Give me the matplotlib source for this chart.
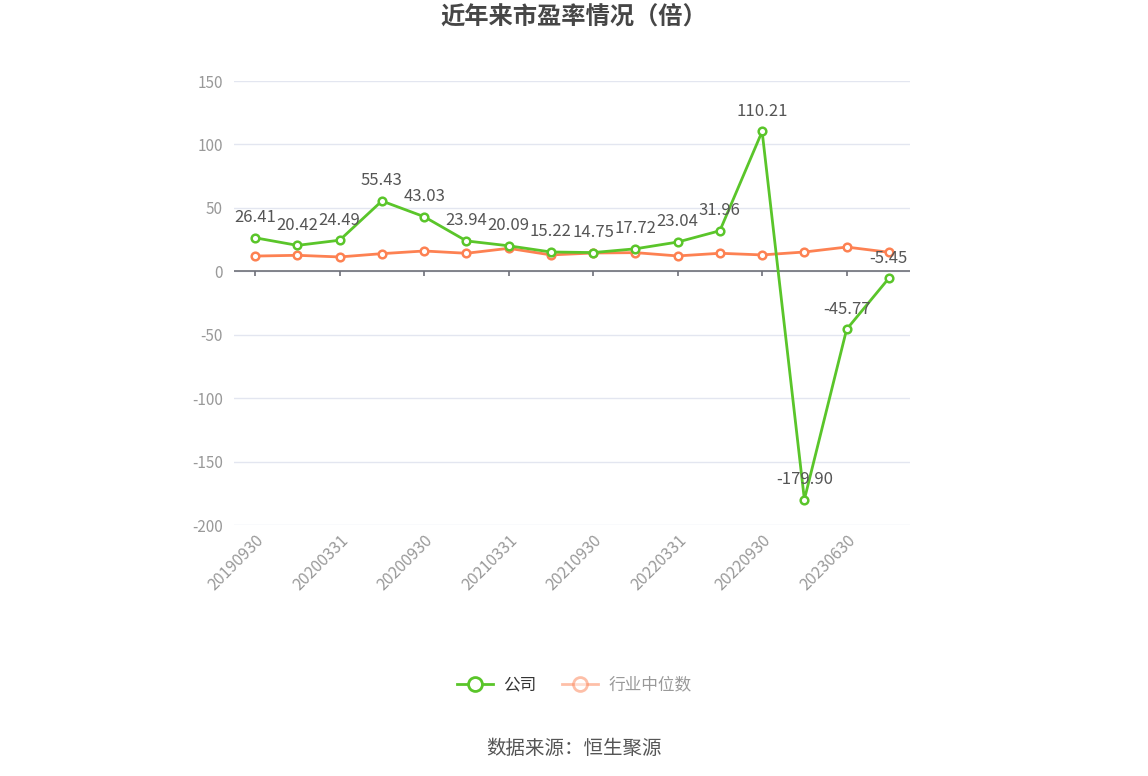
import matplotlib
matplotlib.use("Agg")
import matplotlib.pyplot as plt
from matplotlib.lines import Line2D

plt.rcParams['font.family'] = ['Noto Sans CJK SC', 'DejaVu Sans']
plt.rcParams['axes.unicode_minus'] = False

dates = ["20190930", "20191231", "20200331", "20200630", "20200930", "20201231",
         "20210331", "20210630", "20210930", "20211231", "20220331", "20220630",
         "20220930", "20230331", "20230630", "20230930"]
company = [26.41, 20.42, 24.49, 55.43, 43.03, 23.94, 20.09, 15.22, 14.75, 17.72,
           23.04, 31.96, 110.21, -179.90, -45.77, -5.45]
industry = [12.0, 12.6, 11.3, 13.9, 16.0, 14.2, 18.1, 12.9, 14.4, 14.7,
            12.1, 14.2, 12.9, 15.2, 19.1, 15.0]

green = "#5ac52a"
orange = "#fd8152"

fig = plt.figure(figsize=(11.48, 7.76), dpi=100)
ax = fig.add_axes([234 / 1148, 1 - 525 / 776, 676 / 1148, 444 / 776])

x = list(range(len(dates)))
ax.plot(x, industry, color=orange, lw=2, marker='o', ms=5.5, mfc='white',
        mec=orange, mew=1.8, zorder=3)
ax.plot(x, company, color=green, lw=2, marker='o', ms=5.5, mfc='white',
        mec=green, mew=1.8, zorder=4)

for xi, v in zip(x, company):
    ax.annotate(f"{v:.2f}", (xi, v), xytext=(0, 14.5), textcoords='offset points',
                ha='center', va='center', fontsize=12, color='#555555', zorder=5)

ax.set_xlim(-0.5, len(dates) - 0.5)
ax.set_ylim(-200, 150)
ax.set_yticks(range(-200, 151, 50))
ax.grid(axis='y', color='#e3e6f0', lw=1)
ax.set_axisbelow(True)
for s in ax.spines.values():
    s.set_visible(False)

ax.axhline(0, color='#6e7079', lw=1.2, zorder=2)
ticks = x[::2]
ax.vlines(ticks, -4, 0, color='#6e7079', lw=1.2, zorder=2)
ax.set_xticks(ticks)
ax.set_xticklabels(dates[::2], rotation=45, ha='right', rotation_mode='anchor',
                   fontsize=11.5, color='#999999')
ax.tick_params(axis='x', length=0, pad=5)
ax.tick_params(axis='y', length=0, pad=8, labelsize=11, labelcolor='#999999')

fig.text(0.5, 1 - 18 / 776, "近年来市盈率情况（倍）", ha='center', va='center',
         fontsize=17.5, fontweight='bold', color='#464646')

handles = [
    Line2D([], [], color=green, lw=2, marker='o', ms=10, mfc='white', mec=green, mew=2),
    Line2D([], [], color=orange, lw=2, marker='o', ms=10, mfc='white', mec=orange,
           mew=2, alpha=0.5),
]
leg = fig.legend(handles, ["公司", "行业中位数"], loc='center',
                 bbox_to_anchor=(0.5, 1 - 685 / 776), ncol=2, frameon=False,
                 fontsize=12, handlelength=2.2, columnspacing=1.5, handletextpad=0.6)
leg.get_texts()[0].set_color('#333333')
leg.get_texts()[1].set_color('#999999')

fig.text(0.5, 1 - 748 / 776, "数据来源：恒生聚源", ha='center', va='center',
         fontsize=14, color='#555555')

fig.savefig("out.png", dpi=100)
